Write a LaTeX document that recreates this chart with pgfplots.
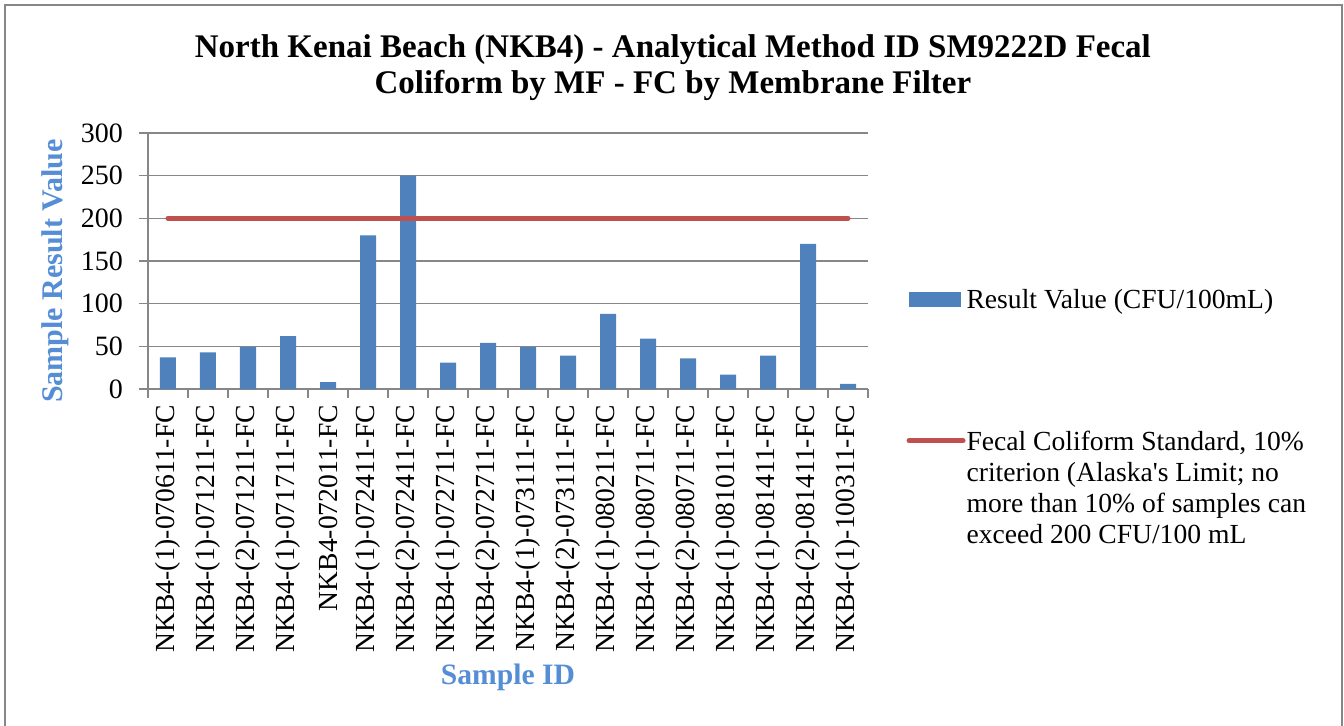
\documentclass[border=0pt]{standalone}
\usepackage{pgfplots}
\pgfplotsset{compat=1.18}
\usepackage{fontspec}
\setmainfont{Liberation Serif}
\definecolor{barblue}{HTML}{4F81BD}
\definecolor{linered}{HTML}{C0504D}
\definecolor{lblblue}{HTML}{558ED5}
\definecolor{gridgray}{HTML}{878787}
\begin{document}
\begin{tikzpicture}
\useasboundingbox (0,0) rectangle (672pt,362.5pt);
\draw[gridgray, line width=1pt] (2.25pt,-5pt) -- (2.25pt,359.75pt) -- (670.75pt,359.75pt) -- (670.75pt,-5pt);
\begin{axis}[
  at={(74pt,168pt)}, anchor=south west,
  width=360pt, height=128pt, scale only axis,
  xmin=-0.5, xmax=17.5, ymin=0, ymax=300,
  ytick={0,50,...,300},
  xtick={-0.5,0.5,...,17.5},
  x tick label as interval,
  xticklabels={NKB4-(1)-070611-FC,NKB4-(1)-071211-FC,NKB4-(2)-071211-FC,NKB4-(1)-071711-FC,NKB4-072011-FC,NKB4-(1)-072411-FC,NKB4-(2)-072411-FC,NKB4-(1)-072711-FC,NKB4-(2)-072711-FC,NKB4-(1)-073111-FC,NKB4-(2)-073111-FC,NKB4-(1)-080211-FC,NKB4-(1)-080711-FC,NKB4-(2)-080711-FC,NKB4-(1)-081011-FC,NKB4-(1)-081411-FC,NKB4-(2)-081411-FC,NKB4-(1)-100311-FC},
  axis lines*=left,
  axis line style={gridgray, line width=0.75pt},
  ymajorgrids, grid style={gridgray, line width=0.75pt},
  tick align=outside, major tick length=4.5pt,
  tick style={gridgray, line width=0.75pt},
  /pgf/number format/assume math mode=true,
  xticklabel style={rotate=90, anchor=east, font=\fontsize{13.8}{15}\selectfont},
  yticklabel style={font=\fontsize{14}{16}\selectfont, xshift=-4.5pt},
  title={North Kenai Beach (NKB4) - Analytical Method ID SM9222D Fecal\\Coliform by MF - FC by Membrane Filter},
  title style={at={(axis description cs:0.729,1.207)}, anchor=center, align=center, font=\bfseries\fontsize{16.5}{18}\selectfont},
  ylabel={Sample Result Value},
  ylabel style={at={(axis description cs:-0.129,0.461)}, anchor=center, font=\bfseries\fontsize{15}{16}\selectfont, text=lblblue},
  xlabel={Sample ID},
  xlabel style={at={(axis description cs:0.5,-1.125)}, anchor=center, font=\bfseries\fontsize{14.8}{16}\selectfont, text=lblblue},
  legend style={at={(axis description cs:1.053,0.417)}, anchor=north west, draw=none, fill=none, inner sep=0pt, row sep=54.5pt, font=\fontsize{13.8}{15.5}\selectfont},
  legend cell align=left,
]
\addplot[ybar, bar width=0.4, fill=barblue, draw=none,
  legend image code/.code={\fill[barblue] (0pt,-3.75pt) rectangle (26pt,3.75pt);}]
  coordinates {(0,37) (1,43) (2,49) (3,62) (4,8) (5,180) (6,250) (7,31) (8,54) (9,49) (10,39) (11,88) (12,59) (13,36) (14,17) (15,39) (16,170) (17,6)};
\addlegendentry{\hspace*{-1.5pt}\strut Result Value (CFU/100mL)}
\addplot[linered, line width=2.5pt, line cap=round,
  legend image code/.code={\draw[linered, line width=2.5pt, line cap=round] (0pt,0pt) -- (27pt,0pt);}]
  coordinates {(0,200) (17,200)};
\addlegendentry{\hspace*{-1.5pt}\parbox[t]{200pt}{\strut Fecal Coliform Standard, 10\%\\criterion (Alaska\textquotesingle s Limit; no\\more than 10\% of samples can\\exceed 200 CFU/100 mL}}
\end{axis}
\end{tikzpicture}
\end{document}
